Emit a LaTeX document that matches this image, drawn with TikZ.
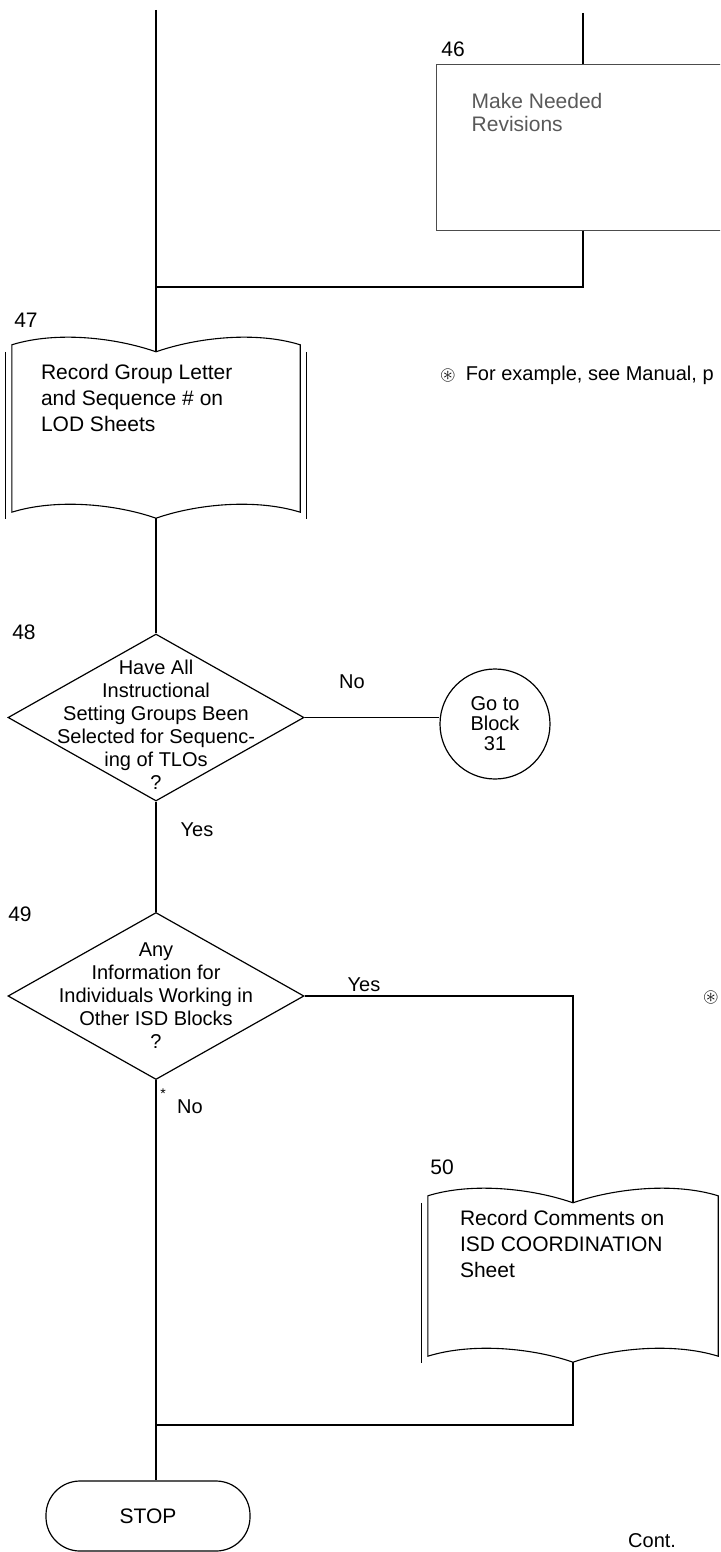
\documentclass[tikz,border=0pt]{standalone}
\usepackage{fontspec}
\setmainfont{Liberation Sans}
\usepackage{amssymb}
\usetikzlibrary{calc,shapes.geometric}
\tikzset{
  flowline/.style={draw, line width=1.2pt},
  docline/.style={draw, line width=1.1pt},
  procbox/.style={draw=black!70, line width=1pt, inner sep=0pt},
  docarea/.style={inner sep=0pt},
  decision/.style={diamond, draw, line width=1.2pt, inner sep=0pt, minimum width=296pt, minimum height=167pt},
  qtext/.style={align=center, inner sep=0pt, font=\fontsize{20}{23}\selectfont},
  btext/.style={align=left, inner sep=0pt, anchor=north west, font=\fontsize{21}{26}\selectfont},
  blocknum/.style={inner sep=0pt, font=\fontsize{21}{21}\selectfont},
  lbl/.style={inner sep=0pt, font=\fontsize{20}{20}\selectfont},
  connector/.style={circle, draw, line width=1.2pt, minimum size=110pt, inner sep=0pt, align=center, font=\fontsize{20}{20}\selectfont},
  terminal/.style={draw, line width=1.2pt, rounded corners=34pt, minimum width=204pt, minimum height=70pt, font=\fontsize{21}{21}\selectfont},
}
% book-like outline round a docarea node, with dips named <node>-top and <node>-bot
\newcommand{\docoutline}[1]{%
  \coordinate (#1-top) at ($(#1.north)+(0,7)$);
  \coordinate (#1-bot) at ($(#1.south)+(0,6)$);
  \draw[docline] (#1.north west) .. controls +(45,-14) and +(-40,-14) .. (#1-top)
    .. controls +(40,-14) and +(-45,-14) .. (#1.north east) -- (#1.south east)
    .. controls +(-45,-14) and +(40,-14) .. (#1-bot)
    .. controls +(-40,-14) and +(45,-14) .. (#1.south west) -- cycle;
  \draw[docline] ($(#1.north west)+(-6,7)$) -- ($(#1.south west)+(-6,7)$);
  \draw[docline] ($(#1.north east)+(6,7)$) -- ($(#1.south east)+(6,7)$);
}

\begin{document}
\begin{tikzpicture}[x=1pt, y=-1pt]
  \useasboundingbox (0,0) rectangle (720,1552);
  \clip (0,0) rectangle (720,1552);

  % 46
  \node[procbox, minimum width=330pt, minimum height=165pt] (rev46) at (601,147.5) {};
  \node[btext, text=black!65, font=\fontsize{21}{23}\selectfont] (rev46txt) at ($(rev46.north west)+(36,29)$) {Make Needed\\Revisions};
  \node[blocknum] (n46) at (453,49) {46};
  \coordinate (in46) at (583,13);
  \coordinate (join47) at (156,287);
  \draw[flowline] (in46) -- (in46 |- rev46.north);
  \draw[flowline] (in46 |- rev46.south) |- (join47);

  % 47
  \node[docarea, minimum width=288pt, minimum height=167pt] (rec47) at (156,428.5) {};
  \docoutline{rec47}
  \node[btext] (rec47txt) at ($(rec47.north west)+(29,19)$) {Record Group Letter\\and Sequence \# on\\LOD Sheets};
  \node[blocknum] (n47) at (26,320) {47};
  \coordinate (in47) at (156,10);
  \draw[flowline] (in47) -- (rec47-top);
  \node[lbl, anchor=base west] (note47) at (440,380) {$\circledast$\hspace{10pt}For example, see Manual, p};

  % 48
  \node[decision] (q48) at (156,717.5) {};
  \node[qtext] (q48txt) at (156,725) {Have All\\Instructional\\Setting Groups Been\\Selected for Sequenc-\\ing of TLOs\\?};
  \node[blocknum] (n48) at (24,632) {48};
  \draw[flowline] (rec47-bot) -- (q48.north);
  \node[connector] (goto31) at (495,724) {Go to\\Block\\31};
  \draw[flowline] (q48.east) -- (q48.east -| goto31.west);
  \node[lbl] (no48) at (352,682) {No};
  \node[lbl] (yes48) at (197,830) {Yes};

  % 49
  \node[decision] (q49) at (156,996) {};
  \node[qtext] (q49txt) at (156,996) {Any\\Information for\\Individuals Working in\\Other ISD Blocks\\?};
  \node[blocknum] (n49) at (20,914) {49};
  \draw[flowline] (q48.south) -- (q49.north);
  \node[lbl] (yes49) at (364,985) {Yes};
  \node[lbl] (no49) at (190,1107) {No};
  \node[inner sep=0pt, font=\fontsize{14}{14}\selectfont] (star49) at (163,1094) {*};
  \node[lbl] (bul49) at (711,997) {$\circledast$};

  % 50
  \node[docarea, minimum width=290pt, minimum height=160pt] (rec50) at (573,1276) {};
  \docoutline{rec50}
  \node[btext] (rec50txt) at ($(rec50.north west)+(32,14.5)$) {Record Comments on\\ISD COORDINATION\\Sheet};
  \node[blocknum] (n50) at (442,1167) {50};
  \draw[flowline] (q49.east) -| (rec50-top);

  % stop
  \node[terminal] (stop) at (148,1516) {STOP};
  \coordinate (join50) at (156,1425);
  \draw[flowline] (q49.south) -- (q49.south |- stop.north);
  \draw[flowline] (rec50-bot) |- (join50);
  \node[lbl, anchor=base west] (cont) at (628,1547) {Cont.};
\end{tikzpicture}
\end{document}
